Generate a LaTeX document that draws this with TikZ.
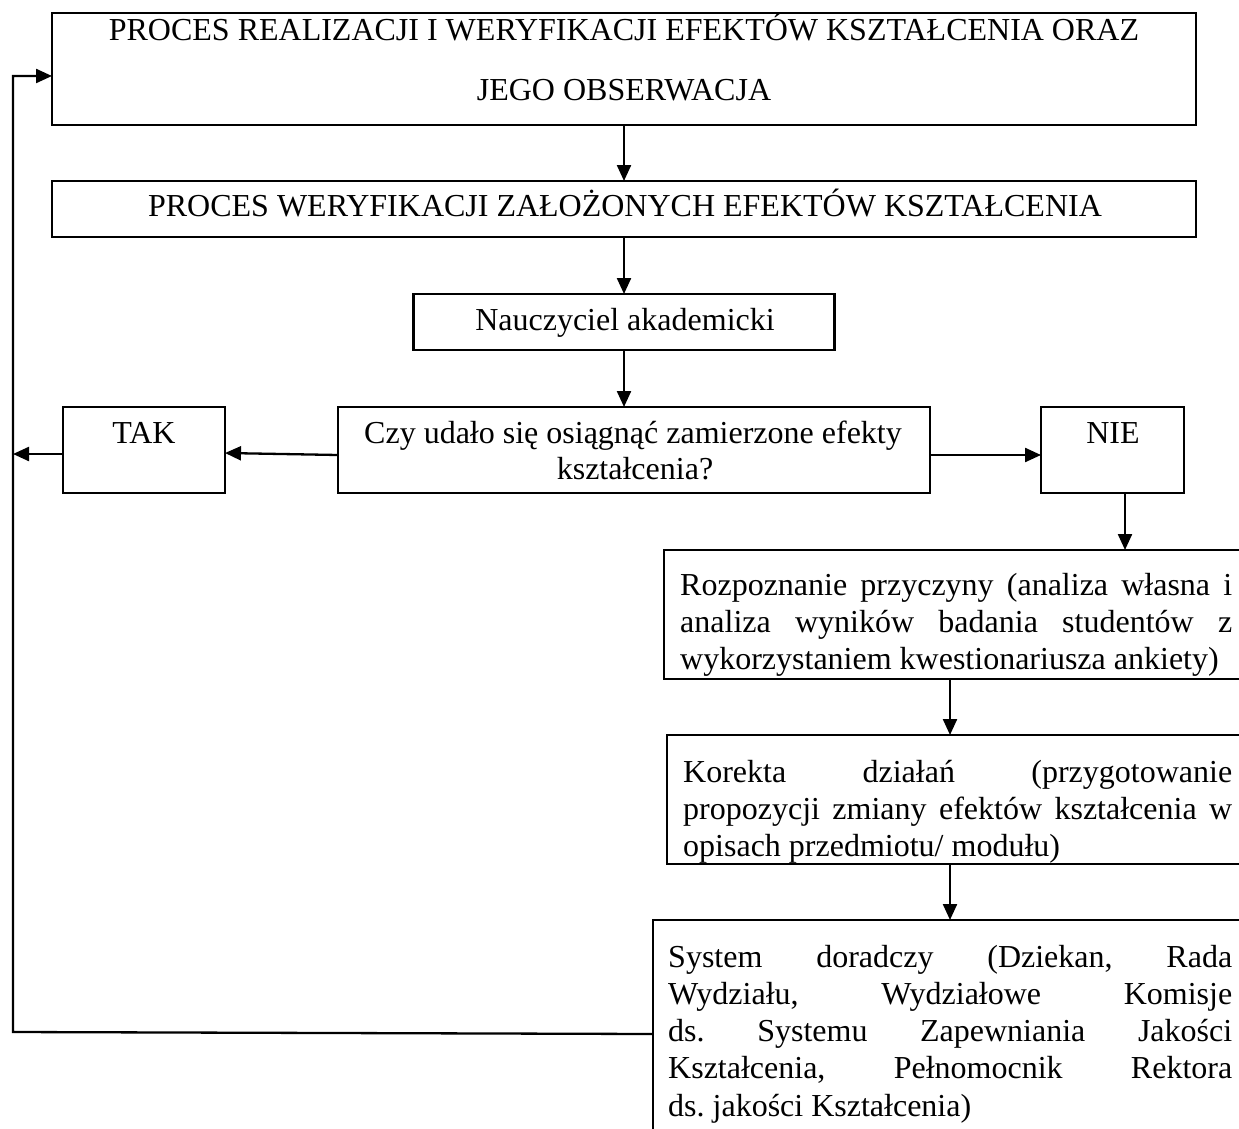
\documentclass[tikz,border=0pt]{standalone}
\usepackage{fontspec}
\setmainfont{Liberation Serif}
\usetikzlibrary{arrows.meta}
\begin{document}
\begin{tikzpicture}[x=1pt,y=-1pt]
\tikzset{
 box/.style={draw,line width=2.3pt,inner sep=0pt,outer sep=0pt},
 arr/.style={line width=2.3pt,-{Triangle[length=16pt,width=14pt]}},
 txt/.style={inner sep=0pt,anchor=base,font=\fontsize{32}{37.3}\selectfont},
 jtxt/.style={inner sep=0pt,anchor=base west,text width=#1,align=justify,
   font=\fontsize{32}{37.3}\selectfont}
}
\useasboundingbox (0,0) rectangle (1239,1129);
% boxes
\node[box,minimum width=1144pt,minimum height=112pt] (b1) at (624,69) {};
\node[box,minimum width=1144pt,minimum height=56pt] (b2) at (624,209) {};
\node[box,minimum width=421pt,minimum height=56pt] (b3) at (624,322) {};
\node[box,minimum width=592pt,minimum height=86pt] (czy) at (634,450) {};
\node[box,minimum width=162pt,minimum height=86pt] (tak) at (144,450) {};
\node[box,minimum width=143pt,minimum height=86pt] (nie) at (1112.5,450) {};
\node[box,minimum width=586pt,minimum height=129pt] (roz) at (957,614.5) {};
\node[box,minimum width=583pt,minimum height=129pt] (kor) at (958.5,799.5) {};
\node[box,minimum width=597pt,minimum height=220pt] (sys) at (951.5,1030) {};
% texts
\node[txt] (t1a) at (624,41) {PROCES REALIZACJI I WERYFIKACJI EFEKTÓW KSZTAŁCENIA ORAZ};
\node[txt] (t1b) at (624,101) {JEGO OBSERWACJA};
\node[txt] (t2) at (625,216) {PROCES WERYFIKACJI ZAŁOŻONYCH EFEKTÓW KSZTAŁCENIA};
\node[txt] (t3) at (625,330) {Nauczyciel akademicki};
\node[txt] (tcza) at (633,443) {Czy udało się osiągnąć zamierzone efekty};
\node[txt] (tczb) at (635,479) {kształcenia?};
\node[txt] (ttak) at (144,443) {TAK};
\node[txt] (tnie) at (1113,443) {NIE};
\node[jtxt=552pt] (troz) at (680,595) {\frenchspacing\hyphenpenalty=10000 Rozpoznanie przyczyny (analiza własna i\linebreak analiza wyników badania studentów z\linebreak wykorzystaniem kwestionariusza ankiety)};
\node[jtxt=549pt] (tkor) at (683,782) {\frenchspacing\hyphenpenalty=10000 Korekta działań (przygotowanie\linebreak propozycji zmiany efektów kształcenia w\linebreak opisach przedmiotu/ modułu)};
\node[jtxt=564pt] (tsys) at (668,967) {\frenchspacing\hyphenpenalty=10000 System doradczy (Dziekan, Rada\linebreak Wydziału, Wydziałowe Komisje\linebreak ds. Systemu Zapewniania Jakości\linebreak Kształcenia, Pełnomocnik Rektora\linebreak ds. jakości Kształcenia)};
% connectors
\coordinate (lb) at (13,1032);
\coordinate (lt) at (13,76);
\draw[arr] (b1.south) -- (b2.north);
\draw[arr] (b2.south) -- (b2.south |- b3.north);
\draw[arr] (b3.south) -- (b3.south |- czy.north);
\draw[arr] ([yshift=-5pt]czy.west) -- ([yshift=-3pt]tak.east);
\draw[arr] ([yshift=-5pt]czy.east) -- ([yshift=-5pt]nie.west);
\draw[arr] ([yshift=-4pt]tak.west) -- ([yshift=-4pt]tak.west -| lb);
\draw[arr] ([xshift=12.5pt]nie.south) -- ([xshift=12.5pt]nie.south |- roz.north);
\draw[arr] ([xshift=-8.5pt]kor.north |- roz.south) -- ([xshift=-8.5pt]kor.north);
\draw[arr] ([xshift=-8.5pt]kor.south) -- ([xshift=-8.5pt]kor.south |- sys.north);
\draw[arr] ([yshift=-4pt]sys.west) -- (lb) -- (lt) -- (lt -| b1.west);
\end{tikzpicture}
\end{document}
